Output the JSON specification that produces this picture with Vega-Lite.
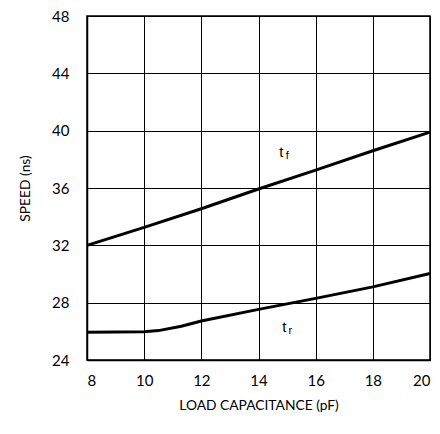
{
  "$schema": "https://vega.github.io/schema/vega-lite/v6.json",
  "width": 343,
  "height": 344,
  "autosize": {"type": "none"},
  "padding": {"left": 87, "top": 16, "right": 10, "bottom": 74},
  "background": "white",
  "config": {
    "view": {"stroke": "black", "strokeWidth": 1.5},
    "axis": {
      "labelFont": "Lato", "titleFont": "Lato", "labelColor": "black", "titleColor": "black",
      "grid": true, "gridColor": "black", "gridWidth": 1, "gridOpacity": 1,
      "ticks": false, "domainColor": "black", "domainWidth": 1.5
    }
  },
  "datasets": {
    "curves": [
      {"c": 8, "s": 32.0, "k": "tf"},
      {"c": 10, "s": 33.25, "k": "tf"},
      {"c": 12, "s": 34.55, "k": "tf"},
      {"c": 14, "s": 35.93, "k": "tf"},
      {"c": 16, "s": 37.25, "k": "tf"},
      {"c": 18, "s": 38.6, "k": "tf"},
      {"c": 20, "s": 39.9, "k": "tf"},
      {"c": 8, "s": 25.93, "k": "tr"},
      {"c": 10, "s": 25.97, "k": "tr"},
      {"c": 10.5, "s": 26.05, "k": "tr"},
      {"c": 11.3, "s": 26.35, "k": "tr"},
      {"c": 12, "s": 26.72, "k": "tr"},
      {"c": 14, "s": 27.53, "k": "tr"},
      {"c": 16, "s": 28.3, "k": "tr"},
      {"c": 18, "s": 29.1, "k": "tr"},
      {"c": 20, "s": 30.04, "k": "tr"}
    ],
    "labels": [
      {"c": 14.8, "s": 38.5, "main": "t", "sub": "f"},
      {"c": 14.9, "s": 26.3, "main": "t", "sub": "r"}
    ]
  },
  "layer": [
    {
      "data": {"name": "curves"},
      "mark": {"type": "line", "color": "black", "strokeWidth": 3},
      "encoding": {
        "x": {"field": "c", "type": "quantitative", "scale": {"domain": [8, 20], "nice": false},
          "axis": {"values": [8, 10, 12, 14, 16, 18, 20], "title": "LOAD CAPACITANCE (pF)", "labelFontSize": 15, "labelPadding": 13, "titleFontSize": 13.8, "titleFontWeight": "normal", "titlePadding": 10}},
        "y": {"field": "s", "type": "quantitative", "scale": {"domain": [24, 48], "nice": false, "zero": false},
          "axis": {"values": [24, 28, 32, 36, 40, 44, 48], "title": "SPEED (ns)", "labelFontSize": 15, "labelPadding": 18, "titleFontSize": 13.8, "titleFontWeight": "normal", "titlePadding": 19}},
        "detail": {"field": "k"}
      }
    },
    {
      "data": {"name": "labels"},
      "mark": {"type": "text", "font": "Liberation Sans", "fontSize": 15, "fill": "black", "align": "center", "baseline": "middle"},
      "encoding": {
        "x": {"field": "c", "type": "quantitative"},
        "y": {"field": "s", "type": "quantitative"},
        "text": {"field": "main"}
      }
    },
    {
      "data": {"name": "labels"},
      "mark": {"type": "text", "font": "Liberation Sans", "fontSize": 11, "fill": "black", "align": "center", "baseline": "middle", "dx": 6, "dy": 4},
      "encoding": {
        "x": {"field": "c", "type": "quantitative"},
        "y": {"field": "s", "type": "quantitative"},
        "text": {"field": "sub"}
      }
    }
  ]
}
